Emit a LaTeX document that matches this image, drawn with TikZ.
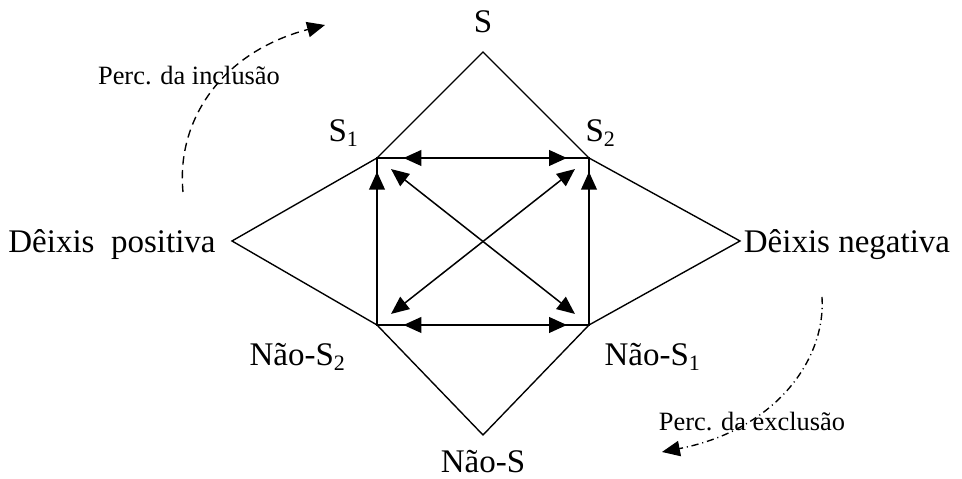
\documentclass[tikz,border=0pt]{standalone}
\usepackage{fontspec}
\setmainfont{Liberation Serif}
\usetikzlibrary{arrows.meta}
\begin{document}
\begin{tikzpicture}[x=0.3636pt,y=-0.3636pt,
  tip/.style={},
  thinline/.style={line width=0.5pt},
  thickarrow/.style={line width=0.95pt,{Triangle[length=6.5pt,width=5.6pt]}-{Triangle[length=6.5pt,width=5.6pt]}},
  uparrow/.style={line width=0.95pt,-{Triangle[length=6.5pt,width=5.6pt]}},
  diagarrow/.style={line width=0.55pt,{Triangle[length=6.5pt,width=5.6pt]}-{Triangle[length=6.5pt,width=5.6pt]}},
  biglabel/.style={font=\fontsize{12}{14}\selectfont, inner sep=0pt},
  smalllabel/.style={font=\fontsize{9.6}{11}\selectfont, inner sep=0pt},
  arcarrow/.style={line width=0.5pt,-{Triangle[length=6.5pt,width=5.6pt]}}]
\useasboundingbox (0,0) rectangle (962,479);
% vertices
\coordinate (L) at (232,241);
\coordinate (R) at (740,241);
\coordinate (T) at (483,52);
\coordinate (B) at (483,435);
\coordinate (s1) at (377,158);
\coordinate (s2) at (589,158);
\coordinate (ns2) at (377,325);
\coordinate (ns1) at (589,325);
% outer polygon
\draw[thinline] (L) -- (s1) -- (T) -- (s2) -- (R) -- (ns1) -- (B) -- (ns2) -- cycle;
% square
\draw[thinline] (s1) -- (s2) -- (ns1) -- (ns2) -- cycle;
% horizontal double arrows
\draw[thickarrow, shorten <=9.6pt, shorten >=8pt] (s1) -- (s2);
\draw[thickarrow, shorten <=9.6pt, shorten >=8pt] (ns2) -- (ns1);
% vertical arrows
\draw[uparrow, shorten >=5pt] (ns2) -- (s1);
\draw[uparrow, shorten >=5pt] (ns1) -- (s2);
% diagonals
\draw[diagarrow, shorten <=6.5pt, shorten >=6.5pt] (s1) -- (ns1);
\draw[diagarrow, shorten <=6.5pt, shorten >=6.5pt] (s2) -- (ns2);
% labels
\node[biglabel] (lS) at (483,22) {S};
\node[biglabel] (lS1) at (344,133) {S\textsubscript{1}};
\node[biglabel] (lS2) at (601,133) {S\textsubscript{2}};
\node[biglabel] (lNS2) at (298,357) {Não-S\textsubscript{2}};
\node[biglabel] (lNS1) at (653,357) {Não-S\textsubscript{1}};
\node[biglabel] (lNS) at (483,462) {Não-S};
\node[biglabel] (lDP) at (112,245) {Dêixis\ \ positiva};
\node[biglabel] (lDN) at (847,245) {Dêixis negativa};
\node[smalllabel] (lPI) at (189,76) {Perc. da inclusão};
\node[smalllabel] (lPE) at (752,422) {Perc. da exclusão};
% arcs
\coordinate (a1s) at (183,192);
\coordinate (a1e) at (325,25);
\draw[arcarrow, dash pattern=on 3pt off 2pt] (a1s) .. controls (176,120) and (222,52) .. (a1e);
\coordinate (a2s) at (822,297);
\coordinate (a2e) at (662,452);
\draw[arcarrow, dash pattern=on 2.6pt off 1.4pt on 0.4pt off 1.4pt] (a2s) .. controls (826,360) and (775,430) .. (a2e);
\end{tikzpicture}
\end{document}
